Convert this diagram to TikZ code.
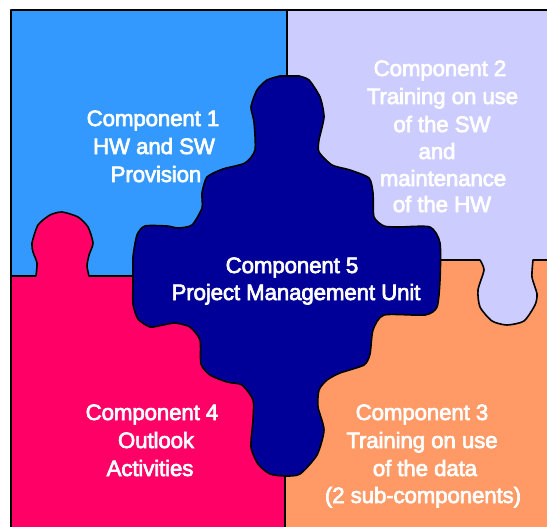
\documentclass[tikz,border=0pt]{standalone}
\usepackage{fontspec}
\setmainfont{Liberation Sans}
\newfontfamily\lblfont[FakeBold=3,LetterSpace=-0.6]{Liberation Sans}
\definecolor{cblue}{HTML}{3399FF}
\definecolor{clav}{HTML}{CCCCFF}
\definecolor{corange}{HTML}{FF9966}
\definecolor{cred}{HTML}{FF0066}
\definecolor{cnavy}{HTML}{000099}
\tikzset{
  seam/.style={draw=black,line width=1.6pt,line join=round},
  lbl/.style={text=white,anchor=base,inner sep=0pt,font=\fontsize{22.3}{24}\lblfont},
  wob/.style={smooth,tension=0.4}
}
\newcommand\redtab{plot[wob] coordinates {(36,276) (37,263) (33,252) (32,243) (38,225) (50,215) (62,212) (78,217) (88,227) (93,243) (89,255) (87,266) (89,276)}}
\newcommand\lavtab{plot[wob] coordinates {(480,260) (484,270) (478,290) (480,307) (492,321) (507,325) (524,321) (535,305) (537,294) (532,277) (533,260)}}
\begin{document}
\begin{tikzpicture}[x=1pt,y=-1pt]
\useasboundingbox (0,0) rectangle (547,527);
\fill[white] (0,0) rectangle (547,527);
\fill[cblue] (11,10) rectangle (287,276);
\fill[clav] (287,10) rectangle (547,260);
\fill[corange] (285,260) rectangle (547,527);
\fill[cred] (11,276) rectangle (285,527);
\fill[cred] \redtab -- cycle;
\fill[clav] \lavtab -- cycle;
\draw[seam] (11,527) -- (11,10) -- (547,10);
\coordinate (mt) at (287,10);
\coordinate (mb) at (285,527);
\draw[seam] (mt) -- (287,80);
\draw[seam] (mb) -- (285,470);
\draw[seam] (11,276) -- (36,276) \redtab -- (140,276);
\draw[seam] (430,260) -- (480,260) \lavtab -- (547,260);
\path[seam,fill=cnavy] plot[wob] coordinates {
(280,76) (267,80) (257,90) (251,107) (254,122) (255,150) (245,163) (223,169) (207,177) (202,193) (202,208) (192,225) (178,228) (167,226) (145,226) (137,235) (133,257) (133,280)
(133,304) (138,319) (150,327) (163,325) (175,323) (190,327) (200,340) (201,364) (210,375) (227,382) (242,385) (253,400) (253,420) (251,447) (258,464) (270,474) (285,476)
(300,474) (317,455) (324,430) (318,407) (319,390) (327,380) (340,373) (364,365) (370,354) (373,330) (384,315) (425,315) (437,307) (440,280)
(440,243) (430,227) (399,227) (384,226) (374,217) (373,193) (369,178) (350,170) (332,165) (319,152) (319,140) (324,117) (320,97) (309,80) (299,76)} -- cycle;
\node[lbl] (c1a) at (153,126) {Component 1};
\node[lbl] (c1b) at (154,154) {HW and SW};
\node[lbl] (c1c) at (156,182) {Provision};
\node[lbl] (c2a) at (440,76) {Component 2};
\node[lbl] (c2b) at (442.5,104) {Training on use};
\node[lbl] (c2c) at (442,132) {of the SW};
\node[lbl] (c2d) at (437,159) {and};
\node[lbl] (c2e) at (443,186) {maintenance};
\node[lbl] (c2f) at (442,212) {of the HW};
\node[lbl] (c3a) at (422,420) {Component 3};
\node[lbl] (c3b) at (422,448) {Training on use};
\node[lbl] (c3c) at (425,476) {of the data};
\node[lbl] (c3d) at (423,503) {(2 sub-components)};
\node[lbl] (c4a) at (152,420) {Component 4};
\node[lbl] (c4b) at (156,448) {Outlook};
\node[lbl] (c4c) at (150,476) {Activities};
\node[lbl] (c5a) at (292,273) {Component 5};
\node[lbl] (c5b) at (296,300) {Project Management Unit};
\end{tikzpicture}
\end{document}
